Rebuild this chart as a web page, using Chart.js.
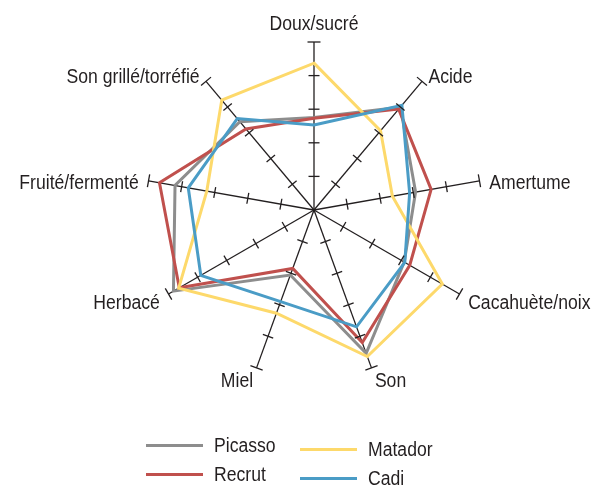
<!DOCTYPE html>
<html>
<head>
<meta charset="utf-8">
<script src="https://cdn.jsdelivr.net/npm/chart.js@4/dist/chart.umd.min.js"></script>
<style>
  body { margin: 0; background: #fff; font-family: "Liberation Sans", sans-serif; color: #231f20; }
  #wrap { position: relative; width: 595px; height: 486px; overflow: hidden; }
  .leg { position: absolute; display: flex; align-items: center; font-size: 20px; white-space: nowrap; }
  .leg span.swatch { display: inline-block; width: 57px; height: 3px; margin-right: 11px; }
  .leg span.txt { display: inline-block; transform: scaleX(0.88); transform-origin: left center; }
</style>
</head>
<body>
<div id="wrap">
  <canvas id="radar" width="595" height="486"></canvas>
  <div class="leg" style="left:146px; top:434px;"><span class="swatch" style="background:#8d8d8d"></span><span class="txt">Picasso</span></div>
  <div class="leg" style="left:146px; top:463px;"><span class="swatch" style="background:#c0504d"></span><span class="txt">Recrut</span></div>
  <div class="leg" style="left:300px; top:438px;"><span class="swatch" style="background:#fdd96b"></span><span class="txt">Matador</span></div>
  <div class="leg" style="left:300px; top:467px;"><span class="swatch" style="background:#4a9cc6"></span><span class="txt">Cadi</span></div>
</div>
<script>
const axisLabels = ['Doux/sucré', 'Acide', 'Amertume', 'Cacahuète/noix', 'Son', 'Miel', 'Herbacé', 'Fruité/fermenté', 'Son grillé/torréfié'];
const picasso = [2.75, 4.0, 3.07, 3.1, 4.54, 2.06, 4.83, 4.2, 3.43];
const recrut  = [2.73, 3.92, 3.54, 3.29, 4.2, 1.85, 4.63, 4.67, 3.15];
const matador = [4.37, 3.08, 2.37, 4.41, 4.64, 3.27, 4.65, 3.24, 4.27];
const cadi    = [2.53, 4.07, 2.89, 3.12, 3.7, 2.9, 3.89, 3.8, 3.55];
const tickValues = [1, 2, 3, 4, 5];

const labelFont = '20px "Liberation Sans", sans-serif';

// tick marks across each spoke + axis names
const spokeDecor = {
  id: 'spokeDecor',
  afterDraw(chart) {
    const scale = chart.scales.r;
    const ctx = chart.ctx;
    ctx.save();
    ctx.strokeStyle = '#231f20';
    ctx.lineWidth = 1.3;
    axisLabels.forEach((name, i) => {
      const a = scale.getIndexAngle(i) - Math.PI / 2;
      const px = -Math.sin(a), py = Math.cos(a);
      tickValues.forEach(v => {
        const p = scale.getPointPositionForValue(i, v);
        const h = v === 5 ? 6.5 : 5.5;
        ctx.beginPath();
        ctx.moveTo(p.x - px * h, p.y - py * h);
        ctx.lineTo(p.x + px * h, p.y + py * h);
        ctx.stroke();
      });
    });
    ctx.fillStyle = '#231f20';
    ctx.font = labelFont;
    axisLabels.forEach((name, i) => {
      const ang = scale.getIndexAngle(i);
      const s = Math.sin(ang);
      const p = scale.getPointPosition(i, scale.drawingArea + 10);
      let dy = 4;
      if (Math.abs(s) < 0.05) {
        ctx.textAlign = 'center';
        ctx.textBaseline = 'bottom';
        dy = 2;
      } else {
        ctx.textAlign = s > 0 ? 'left' : 'right';
        ctx.textBaseline = 'middle';
      }
      ctx.save();
      ctx.translate(p.x, p.y + dy);
      ctx.scale(0.88, 1);
      ctx.fillText(name, 0, 0);
      ctx.restore();
    });
    ctx.restore();
  }
};

const mk = (label, data, color, order) => ({
  label, data, order,
  borderColor: color,
  backgroundColor: color,
  borderWidth: 3,
  fill: false,
  pointRadius: 0,
  pointHoverRadius: 0,
  tension: 0
});

new Chart(document.getElementById('radar'), {
  type: 'radar',
  data: {
    labels: axisLabels,
    datasets: [
      mk('Picasso', picasso, '#8d8d8d', 3),
      mk('Recrut', recrut, '#c0504d', 2),
      mk('Matador', matador, '#fdd96b', 1),
      mk('Cadi', cadi, '#4a9cc6', 0)
    ]
  },
  options: {
    responsive: false,
    animation: false,
    layout: { padding: { left: 146, right: 113, top: 42, bottom: 108 } },
    plugins: { legend: { display: false }, tooltip: { enabled: false } },
    elements: { line: { borderJoinStyle: 'miter' } },
    scales: {
      r: {
        min: 0,
        max: 5,
        grid: { display: false },
        ticks: { display: false },
        pointLabels: { display: false },
        angleLines: { display: true, color: '#231f20', lineWidth: 1.3 }
      }
    }
  },
  plugins: [spokeDecor]
});
</script>
</body>
</html>
